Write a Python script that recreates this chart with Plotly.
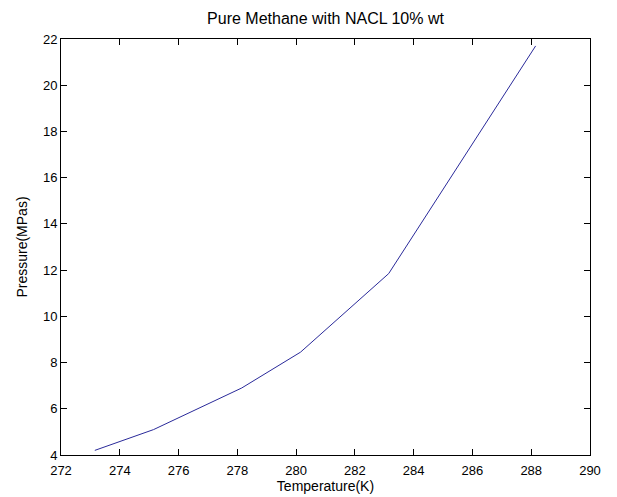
import plotly.graph_objects as go

temperature_k = [273.15, 275.15, 278.15, 280.15, 283.15, 288.15]
pressure_mpa = [4.2, 5.1, 6.9, 8.45, 11.85, 21.7]

x_ticks = [272, 274, 276, 278, 280, 282, 284, 286, 288, 290]
y_ticks = [4, 6, 8, 10, 12, 14, 16, 18, 20, 22]

FONT = "Liberation Sans, Arial, sans-serif"

fig = go.Figure()
fig.add_trace(go.Scatter(
    x=temperature_k, y=pressure_mpa, mode="lines",
    line=dict(color="#2a2a9a", width=1), showlegend=False,
))

axis_common = dict(
    showgrid=False, zeroline=False, showline=True, linecolor="black",
    linewidth=1, mirror="ticks", ticks="inside", ticklen=6, tickcolor="black",
    tickfont=dict(family=FONT, size=13, color="black"), automargin=False,
)

fig.update_layout(
    width=617, height=497,
    margin=dict(l=61, r=27, t=39, b=42),
    paper_bgcolor="white", plot_bgcolor="white",
    title=dict(text="Pure Methane with NACL 10% wt", x=0.5, xref="paper",
               y=1, yref="container", yanchor="top", pad=dict(t=13),
               font=dict(family=FONT, size=16, color="black")),
    xaxis=dict(range=[272, 290], tickvals=x_ticks, ticklabelstandoff=3,
               title=dict(text="Temperature(K)", standoff=4,
                          font=dict(family=FONT, size=14, color="black")),
               **axis_common),
    yaxis=dict(range=[4, 22], tickvals=y_ticks,
               title=dict(text="Pressure(MPas)", standoff=12,
                          font=dict(family=FONT, size=14, color="black")),
               **axis_common),
)

fig.write_html("out.html")
